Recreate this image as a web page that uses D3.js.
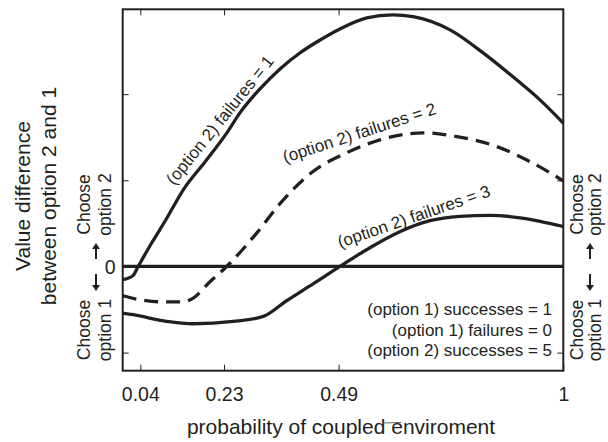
<!DOCTYPE html>
<html>
<head>
<meta charset="utf-8">
<script src="https://cdn.jsdelivr.net/npm/d3@7"></script>
<style>
	body { margin: 0; background: #fff; }
	text { font-family: "Liberation Sans", Arial, Helvetica, sans-serif; fill: #231f20; }
</style>
</head>
<body>
<div id="chart"></div>
<script>
/* global d3 */

//	BEGIN data

// probability of coupled environment (x) and value difference (y)
var fail1X = [0, 0.023, 0.035, 0.066, 0.098, 0.1375, 0.187, 0.236, 0.266, 0.3116, 0.357, 0.402, 0.448, 0.493, 0.554, 0.613, 0.659, 0.743, 0.818, 0.894, 0.947, 1];
var fail1Y = [-0.154, -0.108, 0, 0.275, 0.542, 0.89, 1.215, 1.548, 1.783, 2.061, 2.293, 2.478, 2.629, 2.757, 2.885, 2.92, 2.9, 2.746, 2.479, 2.166, 1.934, 1.664];

var fail2X = [0, 0.039, 0.085, 0.137, 0.16, 0.198, 0.236, 0.304, 0.357, 0.432, 0.508, 0.584, 0.682, 0.758, 0.849, 0.924, 1];
var fail2Y = [-0.34, -0.386, -0.41, -0.41, -0.367, -0.177, 0, 0.387, 0.73, 1.102, 1.319, 1.47, 1.551, 1.508, 1.392, 1.218, 0.994];

var fail3X = [0, 0.024, 0.1, 0.16, 0.251, 0.319, 0.372, 0.433, 0.493, 0.561, 0.629, 0.697, 0.765, 0.834, 0.902, 0.947, 1];
var fail3Y = [-0.541, -0.56, -0.638, -0.665, -0.638, -0.58, -0.398, -0.2, 0, 0.217, 0.403, 0.531, 0.582, 0.594, 0.565, 0.524, 0.464];

var xTickValues = [0.04, 0.23, 0.49, 1];
var xTickLabels = ["0.04", "0.23", "0.49", "1"];
var yTickValues = [-1, 0, 1, 2];
var yTickLabels = ["", "0", "", ""];

var curveLabels = ["(option 2) failures = 1", "(option 2) failures = 2", "(option 2) failures = 3"];
var legendLines = ["(option 1) successes = 1", "(option 1) failures = 0", "(option 2) successes = 5"];

//	END data

var width = 608;
var height = 442;
// plot frame edges (named so they don't clash with window.top)
var frameL = 122.7, frameR = 563.3, frameT = 9.3, frameB = 370.7;

var svg = d3.select("#chart")
	.append("svg")
	.attr("width", width)
	.attr("height", height);

var x = d3.scaleLinear().domain([0, 1]).range([frameL, frameR]);
var y = d3.scaleLinear().domain([-1.21, 2.985]).range([frameB, frameT]);

function toPoints(xs, ys) {
	return xs.map(function(d, i) { return [d, ys[i]]; });
}

var line = d3.line()
	.x(function(d) { return x(d[0]); })
	.y(function(d) { return y(d[1]); })
	.curve(d3.curveMonotoneX);

//	BEGIN axes

// frame with inward ticks, labels only where the figure has them
svg.append("g")
	.attr("transform", "translate(0," + frameB + ")")
	.call(d3.axisBottom(x).tickValues(xTickValues).tickSizeInner(-6).tickSizeOuter(0)
		.tickFormat(function(d, i) { return xTickLabels[i]; }))
	.call(function(g) {
		g.select(".domain").remove();
		g.selectAll(".tick line").attr("stroke", "#231f20").attr("stroke-width", 1);
		g.selectAll(".tick text").attr("y", 30).attr("dy", 0)
			.style("font-size", "19.5px").attr("fill", "#231f20");
	});

svg.append("g")
	.attr("transform", "translate(0," + frameT + ")")
	.call(d3.axisTop(x).tickValues(xTickValues.slice(0, 3)).tickSizeInner(-6).tickSizeOuter(0).tickFormat(""))
	.call(function(g) {
		g.select(".domain").remove();
		g.selectAll(".tick line").attr("stroke", "#231f20").attr("stroke-width", 1);
	});

svg.append("g")
	.attr("transform", "translate(" + frameL + ",0)")
	.call(d3.axisLeft(y).tickValues(yTickValues).tickSizeInner(-6).tickSizeOuter(0)
		.tickFormat(function(d, i) { return yTickLabels[i]; }))
	.call(function(g) {
		g.select(".domain").remove();
		g.selectAll(".tick line").attr("stroke", "#231f20").attr("stroke-width", 1);
		g.selectAll(".tick text").attr("x", -7).attr("dy", "0.36em")
			.style("font-size", "19.5px").attr("fill", "#231f20");
	});

svg.append("g")
	.attr("transform", "translate(" + frameR + ",0)")
	.call(d3.axisRight(y).tickValues(yTickValues).tickSizeInner(-6).tickSizeOuter(0).tickFormat(""))
	.call(function(g) {
		g.select(".domain").remove();
		g.selectAll(".tick line").attr("stroke", "#231f20").attr("stroke-width", 1);
	});

svg.append("rect")
	.attr("x", frameL)
	.attr("y", frameT)
	.attr("width", frameR - frameL)
	.attr("height", frameB - frameT)
	.style("fill", "none")
	.style("stroke", "#231f20")
	.style("stroke-width", 2);

//	END axes

//	BEGIN lines

// zero line
svg.append("path")
	.datum([[0, 0], [1, 0]])
	.attr("d", line)
	.style("fill", "none")
	.style("stroke", "#231f20")
	.style("stroke-width", 3.2);

var series = [
	{ pts: toPoints(fail1X, fail1Y), dash: null },
	{ pts: toPoints(fail2X, fail2Y), dash: "14,8" },
	{ pts: toPoints(fail3X, fail3Y), dash: null }
];

svg.selectAll(".curve")
	.data(series)
	.enter().append("path")
	.attr("class", "curve")
	.attr("d", function(d) { return line(d.pts); })
	.style("fill", "none")
	.style("stroke", "#231f20")
	.style("stroke-width", 3.3)
	.style("stroke-dasharray", function(d) { return d.dash; });

//	END lines

//	BEGIN labels

var labelPos = [
	{ px: 174, py: 186, angle: -51 },
	{ px: 285, py: 163, angle: -18 },
	{ px: 340, py: 248, angle: -19 }
];

svg.selectAll(".curve-label")
	.data(curveLabels)
	.enter().append("text")
	.attr("class", "curve-label")
	.attr("transform", function(d, i) {
		return "translate(" + labelPos[i].px + "," + labelPos[i].py + ") rotate(" + labelPos[i].angle + ")";
	})
	.style("font-size", "17px")
	.text(function(d) { return d; });

svg.selectAll(".legend")
	.data(legendLines)
	.enter().append("text")
	.attr("class", "legend")
	.attr("x", 552)
	.attr("y", function(d, i) { return 315 + i * 20.6; })
	.attr("text-anchor", "end")
	.style("font-size", "17px")
	.text(function(d) { return d; });

// y axis title, two rotated lines
var yTitle = ["Value difference", "between option 2 and 1"];
svg.selectAll(".ytitle")
	.data(yTitle)
	.enter().append("text")
	.attr("class", "ytitle")
	.attr("transform", function(d, i) { return "translate(" + (30 + i * 25.5) + ",196) rotate(-90)"; })
	.attr("text-anchor", "middle")
	.style("font-size", "21px")
	.text(function(d) { return d; });

svg.append("text")
	.attr("x", 341)
	.attr("y", 434)
	.attr("text-anchor", "middle")
	.style("font-size", "21px")
	.text("probability of coupled enviroment");

// small stray stroke over the x title, as in the figure
svg.append("line")
	.attr("x1", 383).attr("y1", 423)
	.attr("x2", 401).attr("y2", 422.5)
	.style("stroke", "#666")
	.style("stroke-width", 1);

// "Choose option" side notes with arrows
var sides = [
	{ b1: 90, b2: 110.5, ax: 96 },
	{ b1: 583, b2: 601, ax: 590 }
];
var choose = [
	{ lines: ["Choose", "option 2"], cy: 204.5 },
	{ lines: ["Choose", "option 1"], cy: 330 }
];

sides.forEach(function(s) {
	choose.forEach(function(c) {
		c.lines.forEach(function(t, i) {
			svg.append("text")
				.attr("transform", "translate(" + (i === 0 ? s.b1 : s.b2) + "," + c.cy + ") rotate(-90)")
				.attr("text-anchor", "middle")
				.style("font-size", "17.5px")
				.text(t);
		});
	});
	// up arrow and down arrow around the zero line
	[[259, 243], [274, 291]].forEach(function(a) {
		var dir = a[1] < a[0] ? -1 : 1;
		svg.append("line")
			.attr("x1", s.ax).attr("y1", a[0])
			.attr("x2", s.ax).attr("y2", a[1] - dir * 3)
			.style("stroke", "#231f20")
			.style("stroke-width", 2);
		svg.append("path")
			.attr("d", "M" + (s.ax - 4) + "," + (a[1] - dir * 6) + "L" + s.ax + "," + a[1] + "L" + (s.ax + 4) + "," + (a[1] - dir * 6) + "Z")
			.style("fill", "#231f20");
	});
});

//	END labels
</script>
</body>
</html>
